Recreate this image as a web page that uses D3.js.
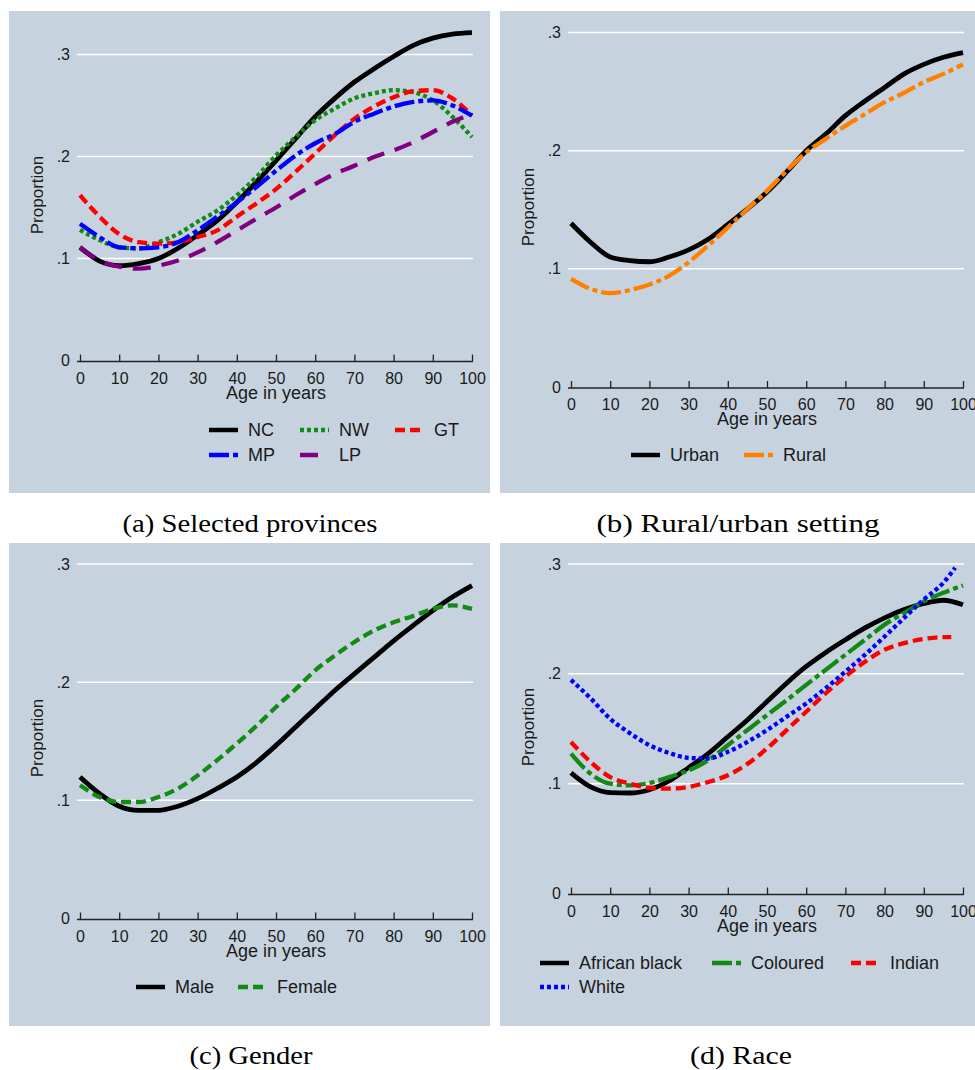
<!DOCTYPE html>
<html><head><meta charset="utf-8">
<script src="https://cdn.jsdelivr.net/npm/d3@7"></script>
<style>body{margin:0;background:#fff}text{font-family:"Liberation Sans",Arial,sans-serif;fill:#1a1a1a}</style>
</head><body><svg id="chart" width="975" height="1070"></svg>
<script>
// ---------- data ----------
const ages = [0,5,10,15,20,25,30,35,40,45,50,55,60,65,70,75,80,85,90,95,100];
const agesIndian = [0,5,10,15,20,25,30,35,40,45,50,55,60,65,70,75,80,85,90,95,97];
const agesWhite = [0,5,10,15,20,25,30,35,40,45,50,55,60,65,70,75,80,85,90,95,98];
const xTicks = [0,10,20,30,40,50,60,70,80,90,100];
const yTicks = [0,0.1,0.2,0.3];
const yTickLabels = ["0",".1",".2",".3"];
const xTitle = "Age in years";
const yTitle = "Proportion";
const captions = ["(a) Selected provinces","(b) Rural/urban setting","(c) Gender","(d) Race"];

// (a) provinces
const provNC = [0.111,0.0975,0.093,0.095,0.100,0.110,0.123,0.137,0.155,0.175,0.196,0.2175,0.239,0.257,0.273,0.286,0.298,0.309,0.316,0.320,0.3215];
const provNW = [0.128,0.118,0.111,0.110,0.116,0.124,0.136,0.147,0.162,0.180,0.201,0.219,0.2355,0.247,0.257,0.262,0.265,0.263,0.255,0.239,0.219];
const provGT = [0.162,0.141,0.124,0.116,0.1145,0.116,0.121,0.1275,0.141,0.154,0.168,0.185,0.203,0.221,0.237,0.249,0.258,0.264,0.265,0.257,0.240];
const provMP = [0.134,0.121,0.111,0.110,0.111,0.116,0.1275,0.141,0.155,0.170,0.186,0.201,0.213,0.222,0.234,0.242,0.249,0.2535,0.255,0.250,0.240];
const provLP = [0.111,0.098,0.092,0.090,0.093,0.098,0.106,0.116,0.1275,0.139,0.150,0.162,0.173,0.183,0.191,0.1995,0.206,0.214,0.224,0.234,0.242];
// (b) setting
const urbanVals = [0.1386,0.1225,0.110,0.107,0.106,0.110,0.116,0.125,0.1375,0.1507,0.165,0.182,0.200,0.214,0.2296,0.242,0.2535,0.265,0.273,0.279,0.283];
const ruralVals = [0.0915,0.083,0.0794,0.082,0.0868,0.094,0.1056,0.1197,0.135,0.1507,0.166,0.183,0.1986,0.210,0.221,0.231,0.241,0.249,0.258,0.265,0.273];
// (c) gender
const maleVals = [0.1197,0.1056,0.095,0.0915,0.0915,0.095,0.1014,0.110,0.1197,0.132,0.1465,0.162,0.1775,0.193,0.207,0.221,0.235,0.248,0.2606,0.272,0.2817];
const femaleVals = [0.1127,0.1028,0.0986,0.0986,0.1028,0.110,0.121,0.134,0.148,0.163,0.179,0.194,0.210,0.2225,0.234,0.2437,0.2507,0.256,0.262,0.265,0.262];
// (d) race
const africanVals = [0.1098,0.097,0.0918,0.0915,0.0945,0.1024,0.1146,0.1274,0.1427,0.158,0.1747,0.1915,0.2067,0.2195,0.231,0.2418,0.251,0.2585,0.264,0.267,0.2628];
const colouredVals = [0.1274,0.109,0.100,0.0985,0.1006,0.106,0.112,0.1213,0.135,0.1488,0.1625,0.176,0.190,0.2037,0.2174,0.231,0.2448,0.2555,0.266,0.2738,0.2805];
const indianVals = [0.138,0.1198,0.106,0.100,0.0963,0.0954,0.097,0.1015,0.1076,0.118,0.132,0.1488,0.1655,0.1823,0.1976,0.211,0.222,0.228,0.2317,0.2335,0.2335];
const whiteVals = [0.1945,0.1777,0.159,0.146,0.135,0.128,0.1235,0.1229,0.129,0.138,0.1488,0.161,0.173,0.187,0.202,0.2174,0.234,0.251,0.2677,0.283,0.2966];

// ---------- styles ----------
const ST = {
  solid:   {dash:null,        w:4.8},
  dot:     {dash:"4,3",       w:4.3},
  dash:    {dash:"10,5",      w:4.3},
  dashdot: {dash:"20,4,5,4",  w:4.3},
  longdash:{dash:"18,11",     w:4.3}
};

const panels = [
  {bg:[9,11,490,493], xr:[80,472], yr:[360.5,54.5], ylab:[37,195], cap:[250,523,255],
   series:[
     {name:"NC", x:ages, y:provNC, color:"#000000", st:"solid",   leg:[209,430]},
     {name:"NW", x:ages, y:provNW, color:"#138a13", st:"dot",     leg:[300,430]},
     {name:"GT", x:ages, y:provGT, color:"#ff0000", st:"dash",    leg:[395,430]},
     {name:"MP", x:ages, y:provMP, color:"#0000ff", st:"dashdot", leg:[209,455]},
     {name:"LP", x:ages, y:provLP, color:"#800080", st:"longdash",leg:[300,455]}
   ]},
  {bg:[500,11,975,493], xr:[571,963], yr:[387,32.5], ylab:[528,207], cap:[738,523,283],
   series:[
     {name:"Urban", x:ages, y:urbanVals, color:"#000000", st:"solid",   leg:[631,455]},
     {name:"Rural", x:ages, y:ruralVals, color:"#ff8000", st:"dashdot", leg:[744,455]}
   ]},
  {bg:[9,543,490,1026], xr:[80,472], yr:[918.5,564], ylab:[37,738], cap:[251,1055,123],
   series:[
     {name:"Male",   x:ages, y:maleVals,   color:"#000000", st:"solid", leg:[136,987]},
     {name:"Female", x:ages, y:femaleVals, color:"#138a13", st:"dash",  leg:[238,987]}
   ]},
  {bg:[500,543,975,1026], xr:[571,963], yr:[893.5,564], ylab:[528,727], cap:[741,1055,102],
   series:[
     {name:"African black", x:ages,       y:africanVals,  color:"#000000", st:"solid",   leg:[540,963]},
     {name:"Coloured",      x:ages,       y:colouredVals, color:"#138a13", st:"dashdot", leg:[712,963]},
     {name:"Indian",        x:agesIndian, y:indianVals,   color:"#ff0000", st:"dash",    leg:[851,963]},
     {name:"White",         x:agesWhite,  y:whiteVals,    color:"#0000ff", st:"dot",     leg:[540,987]}
   ]}
];

const svg = d3.select("#chart");
svg.append("rect").attr("width",975).attr("height",1070).attr("fill","#fff");

panels.forEach((p,i) => {
  const g = svg.append("g");
  g.append("rect").attr("x",p.bg[0]).attr("y",p.bg[1])
    .attr("width",p.bg[2]-p.bg[0]).attr("height",p.bg[3]-p.bg[1]).attr("fill","#c6d3df");
  const x = d3.scaleLinear().domain([0,100]).range(p.xr);
  const y = d3.scaleLinear().domain([0,0.3]).range(p.yr);

  // gridlines
  g.selectAll(".grid").data(yTicks.filter(d=>d>0)).join("line")
    .attr("x1",x(0)-3).attr("x2",x(100)+1)
    .attr("y1",d=>y(d)).attr("y2",d=>y(d))
    .attr("stroke","#ffffff").attr("stroke-width",1.5);

  // y tick labels
  g.selectAll(".ylab").data(yTicks).join("text")
    .attr("x",x(0)-10).attr("y",d=>y(d)).attr("dy","0.35em")
    .attr("text-anchor","end").attr("font-size",16)
    .text((d,k)=>yTickLabels[k]);

  // x axis
  const ax = g.append("g").attr("transform",`translate(0,${y(0)+1})`)
    .call(d3.axisBottom(x).tickValues(xTicks).tickSizeInner(-7).tickSizeOuter(0).tickPadding(0).tickFormat(d3.format("d")));
  ax.select(".domain").attr("stroke","#222").attr("stroke-width",1.3)
    .attr("d",`M${x(0)-3},0H${x(100)+1}`);
  ax.selectAll(".tick line").attr("stroke","#222").attr("stroke-width",1.3);
  ax.selectAll(".tick text").attr("y",16.5).attr("dy","0.35em")
    .attr("font-size",16).attr("font-family","Liberation Sans, Arial, sans-serif").attr("fill","#1a1a1a");

  g.append("text").attr("x",(x(0)+x(100))/2).attr("y",y(0)+32).attr("dy","0.35em")
    .attr("text-anchor","middle").attr("font-size",18).text(xTitle);
  g.append("text").attr("transform",`translate(${p.ylab[0]},${p.ylab[1]}) rotate(-90)`)
    .attr("dy","0.35em").attr("text-anchor","middle").attr("font-size",17).text(yTitle);

  // lines
  p.series.forEach(s => {
    const pts = s.x.map((a,k)=>[a,s.y[k]]);
    const line = d3.line().x(d=>x(d[0])).y(d=>y(d[1])).curve(d3.curveMonotoneX);
    g.append("path").datum(pts).attr("d",line).attr("fill","none")
      .attr("stroke",s.color).attr("stroke-width",ST[s.st].w)
      .attr("stroke-dasharray",ST[s.st].dash);
  });

  // legend
  p.series.forEach(s => {
    g.append("line").attr("x1",s.leg[0]).attr("x2",s.leg[0]+29)
      .attr("y1",s.leg[1]).attr("y2",s.leg[1])
      .attr("stroke",s.color).attr("stroke-width",4.5)
      .attr("stroke-dasharray",ST[s.st].dash);
    g.append("text").attr("x",s.leg[0]+39).attr("y",s.leg[1]).attr("dy","0.35em")
      .attr("font-size",18).text(s.name);
  });

  // caption
  svg.append("text").attr("x",p.cap[0]).attr("y",p.cap[1]).attr("dy","0.35em")
    .attr("text-anchor","middle").attr("font-size",25)
    .style("font-family","'Liberation Serif','DejaVu Serif',serif").style("fill","#000")
    .attr("textLength",p.cap[2]).attr("lengthAdjust","spacingAndGlyphs")
    .text(captions[i]);
});
</script></body></html>
